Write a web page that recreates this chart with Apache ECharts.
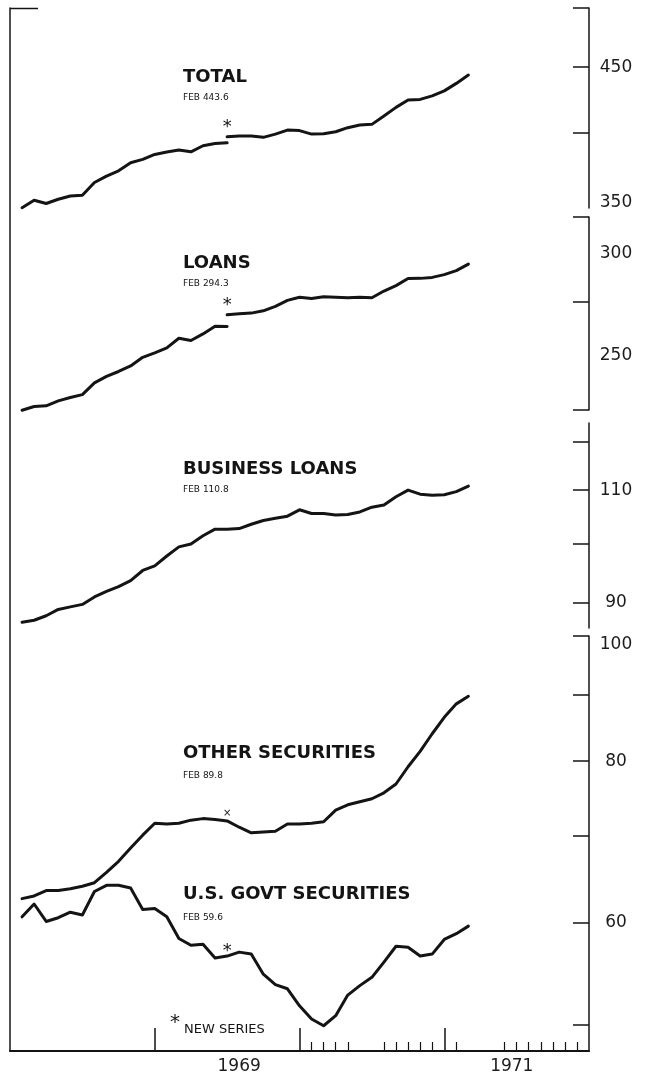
<!DOCTYPE html>
<html>
<head>
<meta charset="utf-8">
<title>Bank credit</title>
<script src="https://cdn.jsdelivr.net/npm/echarts@6/dist/echarts.min.js"></script>
<style>
  html, body { margin: 0; padding: 0; background: #fff; }
  #chart { width: 651px; height: 1081px; }
</style>
</head>
<body>
<div id="chart"></div>
<script>
// monthly, Jan 1968 - Feb 1971, billions of dollars (ratio scale)
const months = [
  '1968-01', '1968-02', '1968-03', '1968-04', '1968-05', '1968-06', '1968-07', '1968-08', '1968-09', '1968-10', '1968-11', '1968-12',
  '1969-01', '1969-02', '1969-03', '1969-04', '1969-05', '1969-06', '1969-07', '1969-08', '1969-09', '1969-10', '1969-11', '1969-12',
  '1970-01', '1970-02', '1970-03', '1970-04', '1970-05', '1970-06', '1970-07', '1970-08', '1970-09', '1970-10', '1970-11', '1970-12',
  '1971-01', '1971-02',
]
const newSeriesIdx = months.indexOf('1969-06') // new series starts here

const totalOld = [350.2, 354.9, 352.8, 355.5, 357.6, 358.1, 366.3, 370.5, 374.0, 379.4, 381.7, 385.1, 386.7, 388.1, 386.9, 391.1, 392.7, 393.2]
const totalNew = [397.4, 398.0, 398.0, 397.0, 399.3, 402.2, 401.8, 399.3, 399.6, 401.0, 403.9, 405.9, 406.3, 412.4, 418.8, 424.3, 424.8, 427.5, 431.3, 437.1, 443.6]

const loansOld = [226.9, 228.4, 228.7, 230.7, 232.1, 233.3, 238.2, 241.0, 243.1, 245.5, 249.3, 251.3, 253.5, 257.9, 256.9, 259.9, 263.5, 263.4]
const loansNew = [268.9, 269.4, 269.7, 270.8, 273.0, 275.9, 277.4, 276.8, 277.7, 277.4, 277.2, 277.4, 277.2, 280.5, 283.2, 286.8, 286.9, 287.4, 288.8, 290.9, 294.3]

const businessLoans = [86.9, 87.2, 87.9, 88.9, 89.3, 89.7, 90.9, 91.8, 92.6, 93.6, 95.3, 96.1, 97.8, 99.4, 99.9, 101.4, 102.6, 102.6, 102.7,
  103.5, 104.2, 104.6, 105.0, 106.2, 105.5, 105.5, 105.2, 105.3, 105.8, 106.7, 107.1, 108.7, 110.0, 109.2, 109.0, 109.1, 109.7, 110.8]

const otherSecurities = [62.6, 62.9, 63.5, 63.5, 63.7, 64.0, 64.4, 65.6, 66.9, 68.5, 70.1, 71.6, 71.5, 71.6, 72.0, 72.2, 72.1, 71.9, 71.1,
  70.4, 70.5, 70.6, 71.5, 71.5, 71.6, 71.8, 73.3, 74.0, 74.4, 74.8, 75.6, 76.8, 79.2, 81.4, 84.0, 86.5, 88.6, 89.8]

const govtSecurities = [60.6, 62.0, 60.1, 60.5, 61.1, 60.8, 63.4, 64.1, 64.1, 63.8, 61.4, 61.5, 60.6, 58.3, 57.6, 57.7, 56.3, 56.5, 56.9,
  56.7, 54.7, 53.7, 53.3, 51.7, 50.5, 49.9, 50.8, 52.7, 53.6, 54.4, 55.9, 57.5, 57.4, 56.5, 56.7, 58.2, 58.8, 59.6]

// right-hand scales
const totalRange = [350, 500], totalTicks = [400, 450, 500], totalLabels = [350, 450]
const loansRange = [227, 320], loansTicks = [227, 275, 320], loansLabels = [250, 300]
const businessRange = [86, 124], businessTicks = [90, 100, 110, 120], businessLabels = [90, 110]
const secRange = [47.7, 100], secTicks = [50, 60, 70, 80, 90, 100], secLabels = [60, 80, 100]

// bottom axis, in months counted from Jan 1968
const yearTicks = [12, 24, 36]
const monthTicks = [25, 26, 27, 28, 31, 32, 33, 34, 35, 37, 41, 42, 43, 44, 45, 46, 47]
const yearLabelAt = [19, 41.6]
const yearLabels = ['1969', '1971']

const INK = '#141414'
const FONT = 'DejaVu Sans'

// each value is plotted at the end of its month
function pairs(values, start) {
  return values.map((v, k) => [start + k + 1, v])
}
function mark(data, k, text, size, distance) {
  data[k] = {
    value: data[k],
    label: { show: true, formatter: text, position: 'top', distance: distance, color: INK, fontSize: size, fontFamily: FONT },
  }
  return data
}

function line(name, xi, data) {
  return {
    name: name,
    type: 'line',
    xAxisIndex: xi,
    yAxisIndex: Math.min(xi, 4),
    data: data,
    symbol: 'circle',
    symbolSize: 0,
    showAllSymbol: true,
    clip: false,
    silent: true,
    lineStyle: { color: INK, width: 3, join: 'round', cap: 'round' },
    itemStyle: { color: INK },
    z: 3,
  }
}

function xHidden(gridIndex) {
  return { gridIndex, type: 'value', min: 0, max: 48, show: false }
}

// labels at the ends of a scale sit a little inside it
function edgeLabel(v) {
  if (v === 350) return '{up|' + v + '}'
  if (v === 100) return '{down|' + v + '}'
  return String(v)
}

function rightAxis(gridIndex, range, ticks, labels) {
  const txt = { color: '#1c1c1c', fontSize: 17, fontFamily: FONT }
  return {
    gridIndex,
    type: 'log',
    logBase: 10,
    min: range[0],
    max: range[1],
    position: 'right',
    axisLine: { show: true, onZero: false, lineStyle: { color: INK, width: 1.5 } },
    axisTick: { show: true, inside: true, length: 16, customValues: ticks, lineStyle: { color: INK, width: 1.5 } },
    axisLabel: Object.assign({
      show: true,
      customValues: labels,
      margin: 27,
      align: 'center',
      formatter: edgeLabel,
      rich: {
        up: Object.assign({ padding: [0, 0, 10, 0] }, txt),
        down: Object.assign({ padding: [18, 0, 0, 0] }, txt),
      },
    }, txt),
    splitLine: { show: false },
  }
}

function heading(text, left, top, size, weight) {
  return { text, left, top, padding: 0, textStyle: { color: INK, fontSize: size, fontWeight: weight, fontFamily: FONT } }
}

const chart = echarts.init(document.getElementById('chart'))
chart.setOption({
  animation: false,
  backgroundColor: '#fff',
  title: [
    heading('TOTAL', 183, 68, 18, 'bold'),
    heading('FEB 443.6', 183, 93, 9, 'normal'),
    heading('LOANS', 183, 254, 18, 'bold'),
    heading('FEB 294.3', 183, 279, 9, 'normal'),
    heading('BUSINESS LOANS', 183, 460, 18, 'bold'),
    heading('FEB 110.8', 183, 485, 9, 'normal'),
    heading('OTHER SECURITIES', 183, 744, 18, 'bold'),
    heading('FEB 89.8', 183, 771, 9, 'normal'),
    heading('U.S. GOVT SECURITIES', 183, 885, 18, 'bold'),
    heading('FEB 59.6', 183, 913, 9, 'normal'),
  ],
  grid: [
    { left: 10, top: 8, width: 579, height: 1043 },
    { left: 10, top: 8, width: 579, height: 200 },
    { left: 10, top: 217, width: 579, height: 193 },
    { left: 10, top: 423, width: 579, height: 205 },
    { left: 10, top: 636, width: 579, height: 415 },
  ],
  xAxis: [
    xHidden(0),
    xHidden(1),
    xHidden(2),
    xHidden(3),
    {
      gridIndex: 4,
      type: 'value',
      min: 0,
      max: 48,
      position: 'bottom',
      axisLine: { show: true, onZero: false, lineStyle: { color: INK, width: 2 } },
      axisTick: { show: true, inside: true, length: 23, customValues: yearTicks, lineStyle: { color: INK, width: 1.5 } },
      axisLabel: {
        show: true,
        customValues: yearLabelAt,
        formatter: v => yearLabels[yearLabelAt.indexOf(v)],
        margin: 7,
        color: '#1c1c1c',
        fontSize: 17,
        fontFamily: FONT,
      },
      splitLine: { show: false },
    },
    {
      gridIndex: 4,
      type: 'value',
      min: 0,
      max: 48,
      position: 'bottom',
      axisLine: { show: false, onZero: false },
      axisTick: { show: true, inside: true, length: 9, customValues: monthTicks, lineStyle: { color: INK, width: 1.2 } },
      axisLabel: { show: false },
      splitLine: { show: false },
    },
  ],
  yAxis: [
    {
      gridIndex: 0,
      type: 'value',
      min: 0,
      max: 1,
      position: 'left',
      axisLine: { show: true, onZero: false, lineStyle: { color: INK, width: 1.5 } },
      axisTick: { show: false },
      axisLabel: { show: false },
      splitLine: { show: false },
    },
    rightAxis(1, totalRange, totalTicks, totalLabels),
    rightAxis(2, loansRange, loansTicks, loansLabels),
    rightAxis(3, businessRange, businessTicks, businessLabels),
    rightAxis(4, secRange, secTicks, secLabels),
  ],
  series: [
    line('TOTAL old', 1, pairs(totalOld, 0)),
    line('TOTAL', 1, mark(pairs(totalNew, newSeriesIdx), 0, '*', 18, 0)),
    line('LOANS old', 2, pairs(loansOld, 0)),
    line('LOANS', 2, mark(pairs(loansNew, newSeriesIdx), 0, '*', 18, 0)),
    line('BUSINESS LOANS', 3, pairs(businessLoans, 0)),
    line('OTHER SECURITIES', 4, mark(pairs(otherSecurities, 0), newSeriesIdx, '×', 10, 3)),
    line('U.S. GOVT SECURITIES', 4, mark(pairs(govtSecurities, 0), newSeriesIdx, '*', 18, -4)),
  ],
  graphic: [
    { type: 'line', shape: { x1: 10, y1: 8.5, x2: 38, y2: 8.5 }, style: { stroke: INK, lineWidth: 1.5 } },
    { type: 'text', left: 170, top: 1013, style: { text: '*', fill: INK, fontSize: 20, fontFamily: FONT } },
    { type: 'text', left: 184, top: 1023, style: { text: 'NEW SERIES', fill: INK, fontSize: 13, fontFamily: FONT } },
  ],
})
</script>
</body>
</html>
